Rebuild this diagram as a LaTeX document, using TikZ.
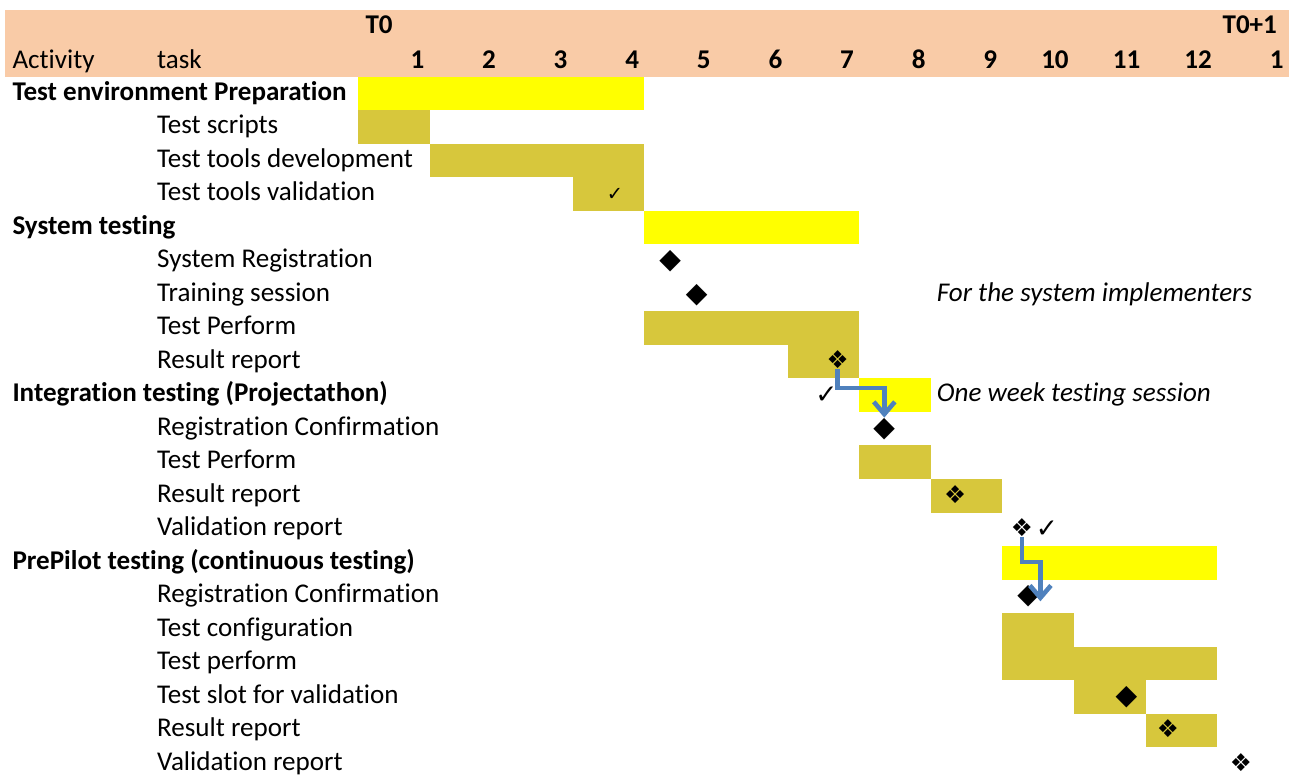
\documentclass[tikz,border=0pt]{standalone}
\usepackage{fontspec}
\setmainfont{Carlito}[Ligatures=NoCommon]
\newfontfamily\symfont{DejaVu Sans}
\usetikzlibrary{arrows.meta}
\definecolor{head}{RGB}{249,203,167}
\definecolor{baryellow}{RGB}{255,255,0}
\definecolor{barolive}{RGB}{215,199,60}
\definecolor{flowblue}{RGB}{79,129,189}

\begin{document}
\fontsize{15.4}{17}\selectfont
\begin{tikzpicture}[x=1.432cm,y=-0.67cm]
\tikzstyle{phase}=[fill=baryellow]
\tikzstyle{work}=[fill=barolive]
\tikzstyle{lbl}=[inner sep=0pt,anchor=mid west]
\tikzstyle{num}=[inner sep=0pt,anchor=mid east,font=\bfseries]
\tikzstyle{mile}=[inner sep=0pt,font=\symfont\fontsize{14}{14}\selectfont]
\tikzstyle{tick}=[inner sep=0pt,font=\symfont\fontsize{15}{15}\selectfont]
\tikzstyle{flow}=[draw=flowblue,line width=2.6pt,-{Straight Barb[length=7pt,width=12pt]}]
\useasboundingbox (0,-2.298) rectangle (18.03,20.866);
\fill[head] (0.07,-2) rectangle (18,0);
\node [lbl,font=\bfseries] (t0) at (5.1,-1.5) {T0};
\node [lbl,font=\bfseries] (t1) at (17.07,-1.5) {T0+1};
\node [lbl] (hact) at (0.17,-0.45) {Activity};
\node [lbl] (htask) at (2.19,-0.45) {task};
\node [num] (m1) at (5.93,-0.45) {1};
\node [num] (m2) at (6.93,-0.45) {2};
\node [num] (m3) at (7.93,-0.45) {3};
\node [num] (m4) at (8.93,-0.45) {4};
\node [num] (m5) at (9.93,-0.45) {5};
\node [num] (m6) at (10.93,-0.45) {6};
\node [num] (m7) at (11.93,-0.45) {7};
\node [num] (m8) at (12.93,-0.45) {8};
\node [num] (m9) at (13.93,-0.45) {9};
\node [num] (m10) at (14.93,-0.45) {10};
\node [num] (m11) at (15.93,-0.45) {11};
\node [num] (m12) at (16.93,-0.45) {12};
\node [num] (m13) at (17.93,-0.45) {1};
\fill[phase] (5,0) rectangle (9,1);
\fill[work] (5,1) rectangle (6,2);
\fill[work] (6,2) rectangle (9,3);
\fill[work] (8,3) rectangle (9,4);
\fill[phase] (9,4) rectangle (12,5);
\fill[work] (9,7) rectangle (12,8);
\fill[work] (11,8) rectangle (12,9);
\fill[phase] (12,9) rectangle (13,10);
\fill[work] (12,11) rectangle (13,12);
\fill[work] (13,12) rectangle (14,13);
\fill[phase] (14,14) rectangle (17,15);
\fill[work] (14,16) rectangle (15,17);
\fill[work] (14,17) rectangle (17,18);
\fill[work] (15,18) rectangle (16,19);
\fill[work] (16,19) rectangle (17,20);
\node [lbl,font=\bfseries] (env) at (0.17,0.5) {Test environment Preparation};
\node [lbl] (scripts) at (2.19,1.5) {Test scripts};
\node [lbl] (tooldev) at (2.19,2.5) {Test tools development};
\node [lbl] (toolval) at (2.19,3.5) {Test tools validation};
\node [lbl,font=\bfseries] (sys) at (0.17,4.5) {System testing};
\node [lbl] (sysreg) at (2.19,5.5) {System Registration};
\node [lbl] (train) at (2.19,6.5) {Training session};
\node [lbl] (sysperf) at (2.19,7.5) {Test Perform};
\node [lbl] (sysres) at (2.19,8.5) {Result report};
\node [lbl,font=\bfseries] (integ) at (0.17,9.5) {Integration testing (Projectathon)};
\node [lbl] (intreg) at (2.19,10.5) {Registration Confirmation};
\node [lbl] (intperf) at (2.19,11.5) {Test Perform};
\node [lbl] (intres) at (2.19,12.5) {Result report};
\node [lbl] (intval) at (2.19,13.5) {Validation report};
\node [lbl,font=\bfseries] (pre) at (0.17,14.5) {PrePilot testing (continuous testing)};
\node [lbl] (prereg) at (2.19,15.5) {Registration Confirmation};
\node [lbl] (preconf) at (2.19,16.5) {Test configuration};
\node [lbl] (preperf) at (2.19,17.5) {Test perform};
\node [lbl] (preslot) at (2.19,18.5) {Test slot for validation};
\node [lbl] (preres) at (2.19,19.5) {Result report};
\node [lbl] (preval) at (2.19,20.5) {Validation report};
\node [lbl,font=\itshape] (note1) at (13.08,6.5) {For the system implementers};
\node [lbl,font=\itshape] (note2) at (13.08,9.5) {One week testing session};
\node [tick,font=\symfont\fontsize{11}{11}\selectfont] (ck3) at (8.59,3.5) {✓};
\node [mile,font=\symfont\fontsize{16}{16}\selectfont] (dm5) at (9.36,5.5) {◆};
\node [mile,font=\symfont\fontsize{16}{16}\selectfont] (dm6) at (9.73,6.5) {◆};
\node [mile] (fd8) at (11.70,8.45) {❖};
\node [tick] (ck9) at (11.54,9.5) {✓};
\node [mile,font=\symfont\fontsize{16}{16}\selectfont] (dm10) at (12.35,10.5) {◆};
\node [mile] (fd12) at (13.34,12.45) {❖};
\node [mile] (fd13) at (14.27,13.45) {❖};
\node [tick] (ck13) at (14.62,13.5) {✓};
\node [mile,font=\symfont\fontsize{16}{16}\selectfont] (dm15) at (14.36,15.5) {◆};
\node [mile,font=\symfont\fontsize{16}{16}\selectfont] (dm18) at (15.73,18.5) {◆};
\node [mile] (fd19) at (16.31,19.45) {❖};
\node [mile] (fd20) at (17.33,20.45) {❖};
\coordinate (tip2) at (14.53,15.65);
\draw[flow] (fd8.south) -- ++(0,0.55) -| (dm10.north);
\draw[flow] (fd13.south) -- ++(0,0.75) -| (tip2);
\end{tikzpicture}
\end{document}
